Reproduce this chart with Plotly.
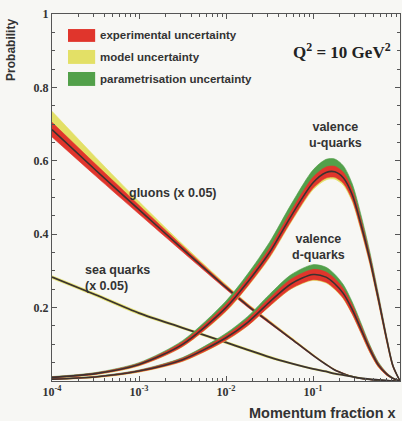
import plotly.graph_objects as go

# ---- data ----
log_x = [-4, -3.5, -3, -2.5, -2, -1.75, -1.5, -1.25, -1, -0.85, -0.75, -0.65, -0.55, -0.45, -0.35, -0.25, -0.15, -0.08, 0]
x = [10 ** v for v in log_x]

# valence u-quarks
u_val = [0.01, 0.02, 0.045, 0.10, 0.20, 0.27, 0.35, 0.45, 0.54, 0.568, 0.57, 0.553, 0.508, 0.428, 0.335, 0.225, 0.11, 0.04, 0.0]
u_exp = [0.001, 0.002, 0.003, 0.006, 0.009, 0.011, 0.012, 0.014, 0.015, 0.015, 0.015, 0.015, 0.014, 0.013, 0.011, 0.009, 0.006, 0.003, 0.0]
u_mod = [0.002, 0.003, 0.004, 0.007, 0.011, 0.013, 0.015, 0.017, 0.019, 0.02, 0.02, 0.02, 0.019, 0.017, 0.014, 0.011, 0.007, 0.003, 0.0]
u_par = [0.002, 0.003, 0.005, 0.01, 0.018, 0.022, 0.028, 0.032, 0.035, 0.036, 0.035, 0.033, 0.03, 0.026, 0.02, 0.014, 0.008, 0.004, 0.0]

# valence d-quarks
d_val = [0.005, 0.011, 0.027, 0.058, 0.118, 0.16, 0.215, 0.265, 0.29, 0.283, 0.265, 0.238, 0.195, 0.142, 0.088, 0.044, 0.018, 0.007, 0.0]
d_exp = [0.001, 0.001, 0.002, 0.004, 0.007, 0.009, 0.011, 0.013, 0.014, 0.014, 0.014, 0.013, 0.012, 0.01, 0.008, 0.005, 0.003, 0.001, 0.0]
d_mod = [0.001, 0.002, 0.003, 0.005, 0.008, 0.01, 0.012, 0.014, 0.016, 0.016, 0.016, 0.015, 0.013, 0.011, 0.009, 0.006, 0.003, 0.001, 0.0]
d_par = [0.001, 0.002, 0.003, 0.006, 0.012, 0.016, 0.021, 0.025, 0.027, 0.027, 0.026, 0.024, 0.021, 0.017, 0.012, 0.008, 0.004, 0.002, 0.0]

# gluons (x 0.05)
g_val = [0.685, 0.575, 0.467, 0.36, 0.255, 0.205, 0.16, 0.115, 0.07, 0.045, 0.03, 0.02, 0.012, 0.007, 0.004, 0.002, 0.001, 0.0, 0.0]
g_exp = [0.02, 0.016, 0.012, 0.008, 0.005, 0.004, 0.003, 0.002, 0.0015, 0.001, 0.001, 0.001, 0.0, 0.0, 0.0, 0.0, 0.0, 0.0, 0.0]
g_mod = [0.05, 0.035, 0.022, 0.013, 0.008, 0.006, 0.005, 0.004, 0.003, 0.002, 0.002, 0.001, 0.001, 0.0, 0.0, 0.0, 0.0, 0.0, 0.0]

# sea quarks (x 0.05)
s_val = [0.283, 0.235, 0.185, 0.145, 0.105, 0.085, 0.065, 0.048, 0.033, 0.026, 0.02, 0.016, 0.012, 0.008, 0.005, 0.003, 0.001, 0.0, 0.0]
s_mod = [0.004, 0.004, 0.004, 0.003, 0.003, 0.003, 0.003, 0.002, 0.002, 0.002, 0.002, 0.001, 0.001, 0.001, 0.0, 0.0, 0.0, 0.0, 0.0]

legend_labels = ["experimental uncertainty", "model uncertainty", "parametrisation uncertainty"]
x_tick_vals = [1e-4, 1e-3, 1e-2, 1e-1, 1]
x_tick_text = ["10<sup>-4</sup>", "10<sup>-3</sup>", "10<sup>-2</sup>", "10<sup>-1</sup>", "1"]
y_tick_vals = [0.2, 0.4, 0.6, 0.8, 1.0]
y_tick_text = ["0.2", "0.4", "0.6", "0.8", "1"]

# ---- style ----
RED = "#e0352c"
YELLOW = "#e3e066"
GREEN = "#52a04a"
LINE = "#3b3230"
TXT = "#333333"
BG = "#f7f7f4"

fig = go.Figure()


def band(lo, hi, color):
    fig.add_trace(go.Scatter(x=x, y=lo, mode="lines", showlegend=False, hoverinfo="skip",
                             line=dict(width=0.6, color=color, shape="spline", smoothing=0.8)))
    fig.add_trace(go.Scatter(x=x, y=hi, mode="lines", showlegend=False, hoverinfo="skip",
                             fill="tonexty", fillcolor=color,
                             line=dict(width=0.6, color=color, shape="spline", smoothing=0.8)))


def central(c, w=1.6):
    fig.add_trace(go.Scatter(x=x, y=c, mode="lines", showlegend=False, hoverinfo="skip",
                             line=dict(width=w, color=LINE, shape="spline", smoothing=0.8)))


# gluons
band(g_val, [c + m for c, m in zip(g_val, g_mod)], YELLOW)
band([c - e for c, e in zip(g_val, g_exp)], [c + e for c, e in zip(g_val, g_exp)], RED)
central(g_val)

# sea quarks
band([c - m for c, m in zip(s_val, s_mod)], [c + m for c, m in zip(s_val, s_mod)], YELLOW)
central(s_val, 1.8)

# valence quarks
for c_, e_, m_, p_ in [(u_val, u_exp, u_mod, u_par), (d_val, d_exp, d_mod, d_par)]:
    band(c_, [c + p for c, p in zip(c_, p_)], GREEN)
    band([c - m for c, m in zip(c_, m_)], c_, YELLOW)
    band([c - e for c, e in zip(c_, e_)], [c + e for c, e in zip(c_, e_)], RED)
    central(c_)

# ---- legend swatches + labels ----
sw_y = [(0.924, 0.959), (0.864, 0.902), (0.804, 0.842)]
for (y0, y1), col, lab in zip(sw_y, [RED, YELLOW, GREEN], legend_labels):
    fig.add_shape(type="rect", xref="paper", yref="paper", x0=0.046, x1=0.124, y0=y0, y1=y1,
                  fillcolor=col, line=dict(width=0))
    fig.add_annotation(xref="paper", yref="paper", x=0.132, y=(y0 + y1) / 2, text="<b>" + lab + "</b>",
                       showarrow=False, xanchor="left", yanchor="middle",
                       font=dict(family="Liberation Sans", size=11.5, color=TXT))

bold_sans = dict(family="Liberation Sans", size=12.5, color=TXT)
fig.add_annotation(xref="paper", yref="paper", x=0.833, y=0.9, xanchor="center", yanchor="middle",
                   text="<b>Q<sup>2</sup> = 10 GeV<sup>2</sup></b>", showarrow=False,
                   font=dict(family="Liberation Serif", size=17, color="#222222"))
fig.add_annotation(x=-0.747, y=0.669, text="<b>valence<br>u-quarks</b>", showarrow=False, font=bold_sans)
fig.add_annotation(x=-0.94, y=0.365, text="<b>valence<br>d-quarks</b>", showarrow=False, font=bold_sans)
fig.add_annotation(x=-2.61, y=0.512, text="<b>gluons (x 0.05)</b>", showarrow=False, font=bold_sans)
fig.add_annotation(x=-3.644, y=0.282, text="<b>sea quarks<br>(x 0.05)</b>", showarrow=False,
                   xanchor="left", align="left", font=bold_sans)
fig.add_annotation(xref="paper", yref="paper", x=-0.118, y=0.902, xanchor="center", yanchor="middle",
                   text="<b>Probability</b>", textangle=-90, showarrow=False,
                   font=dict(family="Liberation Sans", size=12, color=TXT))
fig.add_annotation(xref="paper", yref="paper", x=0.995, y=-0.087, xanchor="right", yanchor="middle",
                   text="<b>Momentum fraction x</b>", showarrow=False,
                   font=dict(family="Liberation Sans", size=14.5, color=TXT))

axis_common = dict(showline=True, linecolor="#555555", linewidth=1, mirror="allticks",
                   ticks="inside", ticklen=5, tickcolor="#555555", showgrid=False, zeroline=False,
                   tickfont=dict(family="Liberation Serif", size=12, color=TXT))

fig.update_xaxes(type="log", range=[-4, 0], tickvals=x_tick_vals,
                 ticktext=["<b>" + t + "</b>" for t in x_tick_text], automargin=False,
                 minor=dict(ticks="inside", ticklen=3, dtick="D1", tickcolor="#555555", showgrid=False),
                 **axis_common)
fig.update_yaxes(range=[0, 1], tickvals=y_tick_vals,
                 ticktext=["<b>" + t + "</b>" for t in y_tick_text], automargin=False,
                 minor=dict(ticks="inside", ticklen=3, dtick=0.05, tickcolor="#555555", showgrid=False),
                 **axis_common)

fig.update_layout(width=402, height=421, margin=dict(l=52, r=2, t=14, b=40),
                  paper_bgcolor=BG, plot_bgcolor=BG, showlegend=False)

fig.write_html("out.html", config={"displayModeBar": False},
               post_script="document.body.style.margin='0';document.body.style.overflow='hidden';")
